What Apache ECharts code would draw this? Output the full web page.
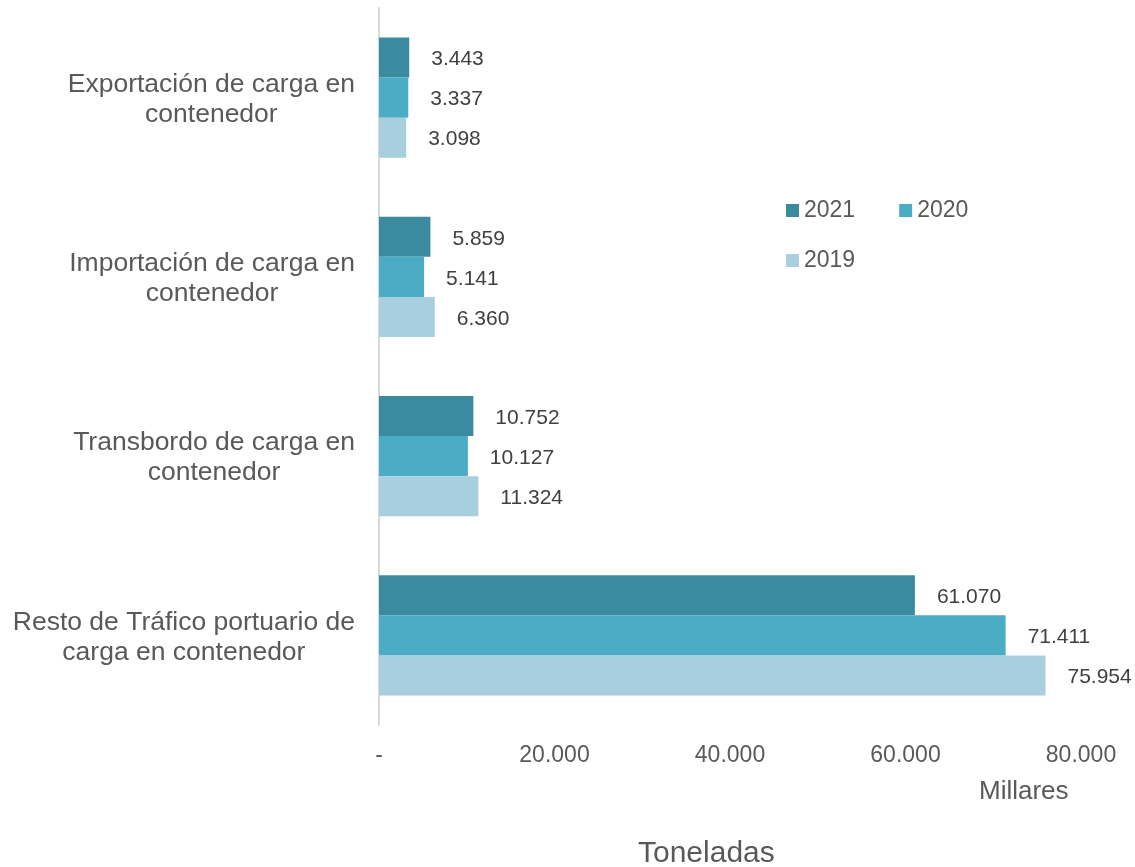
<!DOCTYPE html>
<html>
<head>
<meta charset="utf-8">
<script src="https://cdn.jsdelivr.net/npm/echarts@6/dist/echarts.min.js"></script>
<style>
  html, body { margin: 0; padding: 0; background: #fff; }
  #chart { width: 1135px; height: 867px; }
</style>
</head>
<body>
<div id="chart"></div>
<script>
var categories = [
  "Exportación de carga en\ncontenedor",
  "Importación de carga en\ncontenedor",
  "Transbordo de carga en\ncontenedor",
  "Resto de Tráfico portuario de\ncarga en contenedor"
];
var years = ["2021", "2020", "2019"];
var values2021 = [3443, 5859, 10752, 61070];
var values2020 = [3337, 5141, 10127, 71411];
var values2019 = [3098, 6360, 11324, 75954];
var colors = ["#3b8ba0", "#4bacc6", "#a8cfdd"];

var FONT = "Liberation Sans, Arial, sans-serif";

function fmt(v) {
  if (v === 0) return "-";
  return String(v).replace(/\B(?=(\d{3})+(?!\d))/g, ".");
}

var myChart = echarts.init(document.getElementById("chart"));

function makeSeries(name, data, color) {
  return {
    name: name,
    type: "bar",
    data: data,
    barGap: "0%",
    barCategoryGap: "33%",
    itemStyle: { color: color },
    label: {
      show: true,
      position: "right",
      distance: 22,
      offset: [0, 2],
      color: "#404040",
      fontSize: 21,
      fontFamily: FONT,
      formatter: function (p) { return fmt(p.value); }
    }
  };
}

var legendText = { fontSize: 23, color: "#595959", fontFamily: FONT };

var option = {
  animation: false,
  textStyle: { fontFamily: FONT },
  legend: [
    {
      data: ["2021", "2020"],
      left: 786,
      top: 199,
      padding: 0,
      itemWidth: 13,
      itemHeight: 13,
      itemGap: 44,
      icon: "rect",
      textStyle: legendText
    },
    {
      data: ["2019"],
      left: 786,
      top: 249,
      padding: 0,
      itemWidth: 13,
      itemHeight: 13,
      icon: "rect",
      textStyle: legendText
    }
  ],
  grid: { left: 379, right: 54, top: 8, bottom: 142 },
  xAxis: {
    type: "value",
    min: 0,
    max: 80000,
    interval: 20000,
    axisLine: { show: false },
    axisTick: { show: false },
    splitLine: { show: false },
    axisLabel: {
      fontSize: 23,
      color: "#595959",
      margin: 19,
      formatter: fmt
    }
  },
  yAxis: {
    type: "category",
    inverse: true,
    data: categories,
    axisLine: { show: true, lineStyle: { color: "#d9d9d9", width: 2 } },
    axisTick: { show: false },
    axisLabel: {
      margin: 24,
      align: "right",
      padding: [4, 0, 0, 0],
      formatter: function (v) {
        return v.split("\n").map(function (s) { return "{c|" + s + "}"; }).join("\n");
      },
      rich: {
        c: {
          fontSize: 26.5,
          lineHeight: 30,
          color: "#595959",
          fontFamily: FONT,
          align: "center"
        }
      }
    }
  },
  graphic: [
    {
      type: "text",
      left: 979,
      top: 779,
      style: { text: "Millares", fontSize: 26, fill: "#595959", fontFamily: FONT }
    },
    {
      type: "text",
      left: 638,
      top: 839,
      style: { text: "Toneladas", fontSize: 30, fill: "#595959", fontFamily: FONT }
    }
  ],
  series: [
    makeSeries(years[0], values2021, colors[0]),
    makeSeries(years[1], values2020, colors[1]),
    makeSeries(years[2], values2019, colors[2])
  ]
};

myChart.setOption(option);
window.addEventListener("resize", function () {
  myChart.resize();
});
</script>
</body>
</html>
